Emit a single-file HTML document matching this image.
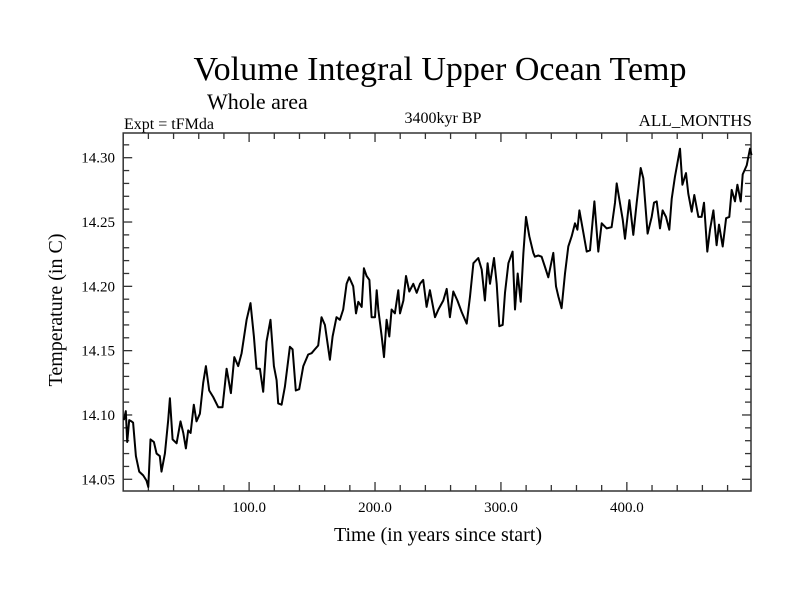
<!DOCTYPE html>
<html><head><meta charset="utf-8"><style>
body{margin:0;background:#fff;}
svg{display:block;font-family:"Liberation Serif",serif;}
</style></head><body>
<svg id="chart" width="800" height="600">
<rect width="800" height="600" fill="#fff"/>
<text x="440" y="80" font-size="34" text-anchor="middle">Volume Integral Upper Ocean Temp</text>
<text x="207" y="109" font-size="22">Whole area</text>
<text x="124" y="129" font-size="16">Expt = tFMda</text>
<text x="443" y="123" font-size="16" text-anchor="middle">3400kyr BP</text>
<text x="752" y="126" font-size="17" text-anchor="end">ALL_MONTHS</text>
<text transform="translate(62,310) rotate(-90)" font-size="20" text-anchor="middle">Temperature (in C)</text>
<text x="438" y="541" font-size="20" text-anchor="middle">Time (in years since start)</text>
<g id="axes"></g>
<path id="series" fill="none" stroke="#000" stroke-width="2" stroke-linejoin="round"/>
</svg>
<script>
const years=[0.5,2.1,3.2,4.8,6.6,7.9,10.1,12.7,15.9,18.5,19.9,21.7,24.4,26.5,29.1,30.4,33.1,35.7,37.1,39.2,42.4,45.5,47.7,49.8,51.6,53.5,56.1,58.2,60.9,63.5,65.7,68.3,71.5,75.5,78.9,82.1,85.5,88.2,91.3,94.0,98.0,101.1,103.8,105.9,108.6,111.2,113.8,117.0,119.7,121.8,123.1,125.8,128.4,132.4,134.5,137.1,139.8,143.0,146.9,149.6,152.2,154.9,157.5,160.2,164.2,166.3,169.4,172.1,174.7,177.4,179.5,
182.7,184.9,186.7,189.4,191.2,193.3,195.5,197.3,200.0,201.3,202.6,205.3,207.1,209.2,211.3,213.2,215.8,218.5,219.8,222.5,224.6,227.2,230.4,233.1,235.7,238.3,241.0,243.6,247.6,250.3,254.2,256.9,259.5,262.2,265.4,268.8,272.8,275.4,278.1,282.0,284.7,287.3,289.4,291.3,294.5,296.6,298.7,301.4,303.2,305.9,309.3,311.2,313.3,315.7,317.8,319.9,322.5,325.7,327.0,329.7,332.3,335.0,337.6,341.6,343.7,345.6,348.2,350.9,353.5,356.2,358.8,360.7,362.3,365.4,368.1,370.7,374.2,377.3,380.0,384.0,387.9,390.6,391.9,394.5,396.7,398.5,402.0,405.1,407.8,411.0,413.1,416.5,419.7,421.6,423.7,426.3,428.4,431.1,433.7,435.6,438.2,440.4,442.2,444.1,447.0,448.8,451.5,453.6,456.8,459.4,461.3,463.9,466.0,468.7,471.3,473.2,476.1,478.8,481.4,483.3,485.9,487.8,490.4,492.0,495.2,497.8,499.0];
const temps=[14.096,14.103,14.079,14.096,14.095,14.094,14.068,14.056,14.053,14.049,14.044,14.081,14.079,14.070,14.068,14.056,14.070,14.096,14.113,14.081,14.078,14.095,14.086,14.074,14.088,14.086,14.108,14.095,14.101,14.125,14.138,14.119,14.114,14.106,14.106,14.136,14.117,14.145,14.138,14.148,14.174,14.187,14.161,14.136,14.136,14.118,14.157,14.174,14.138,14.127,14.109,14.108,14.122,14.153,14.151,14.119,14.120,14.138,14.147,14.148,14.151,14.154,14.176,14.170,14.143,14.161,14.176,14.174,14.182,14.202,14.207,
14.200,14.179,14.188,14.184,14.214,14.208,14.205,14.176,14.176,14.197,14.182,14.161,14.145,14.174,14.161,14.182,14.179,14.197,14.179,14.189,14.208,14.196,14.202,14.195,14.202,14.205,14.184,14.197,14.176,14.182,14.189,14.198,14.176,14.196,14.189,14.180,14.171,14.192,14.218,14.222,14.213,14.189,14.218,14.202,14.222,14.202,14.169,14.170,14.195,14.218,14.227,14.182,14.210,14.188,14.226,14.254,14.239,14.226,14.223,14.224,14.223,14.215,14.207,14.226,14.200,14.192,14.183,14.210,14.231,14.239,14.249,14.244,14.259,14.242,14.227,14.228,14.266,14.227,14.249,14.245,14.246,14.265,14.280,14.265,14.252,14.237,14.267,14.240,14.265,14.292,14.284,14.241,14.254,14.265,14.266,14.245,14.259,14.254,14.244,14.268,14.285,14.297,14.307,14.279,14.288,14.272,14.258,14.271,14.254,14.254,14.265,14.227,14.244,14.259,14.232,14.248,14.231,14.253,14.254,14.275,14.266,14.279,14.266,14.287,14.294,14.307,14.302];
const xTickVals=[100,200,300,400];
const xTickLabels=["100.0","200.0","300.0","400.0"];
const yTickVals=[14.05,14.10,14.15,14.20,14.25,14.30];
const yTickLabels=["14.05","14.10","14.15","14.20","14.25","14.30"];
const X0=123.2,X1=751,Y0=491,Y1=133,xMin=0,xMax=498.6,yMin=14.0409,yMax=14.3192;
const sx=v=>X0+(v-xMin)/(xMax-xMin)*(X1-X0);
const sy=v=>Y0-(v-yMin)/(yMax-yMin)*(Y0-Y1);
const NS="http://www.w3.org/2000/svg";
const axes=document.getElementById('axes');
function line(x1,y1,x2,y2,name){const l=document.createElementNS(NS,'line');l.setAttribute('x1',x1);l.setAttribute('y1',y1);l.setAttribute('x2',x2);l.setAttribute('y2',y2);l.setAttribute('stroke','#333');l.setAttribute('stroke-width','1.3');


axes.appendChild(l);}
const fr=document.createElementNS(NS,'rect');fr.setAttribute('x',X0);fr.setAttribute('y',Y1);fr.setAttribute('width',X1-X0);fr.setAttribute('height',Y0-Y1);fr.setAttribute('fill','none');fr.setAttribute('stroke','#333');fr.setAttribute('stroke-width','1.5');


axes.appendChild(fr);
for(let v=20;v<xMax;v+=20){const x=sx(v);const major=v%100===0;const L=major?9:6;line(x,Y0,x,Y0-L,'x-tick');line(x,Y1,x,Y1+L,'x-tick-top');}
for(let k=0;k<28;k++){const v=14.05+(k-1)*0.01;if(v<yMin||v>yMax)continue;const y=sy(v);const major=Math.abs((v*100)%5)<0.01||Math.abs((v*100)%5-5)<0.01;const L=major?9:6;line(X0,y,X0+L,y,'y-tick');line(X1,y,X1-L,y,'y-tick-right');}
xTickVals.forEach((v,i)=>{const t=document.createElementNS(NS,'text');t.setAttribute('x',sx(v));t.setAttribute('y',512);t.setAttribute('font-size','15');t.setAttribute('text-anchor','middle');t.textContent=xTickLabels[i];


axes.appendChild(t);});
yTickVals.forEach((v,i)=>{const t=document.createElementNS(NS,'text');t.setAttribute('x',115);t.setAttribute('y',sy(v)+5);t.setAttribute('font-size','15');t.setAttribute('text-anchor','end');t.textContent=yTickLabels[i];


axes.appendChild(t);});
document.getElementById('series').setAttribute('d',years.map((y,i)=>(i?'L':'M')+sx(y).toFixed(1)+' '+sy(temps[i]).toFixed(1)).join(' '));
</script>
</body></html>
